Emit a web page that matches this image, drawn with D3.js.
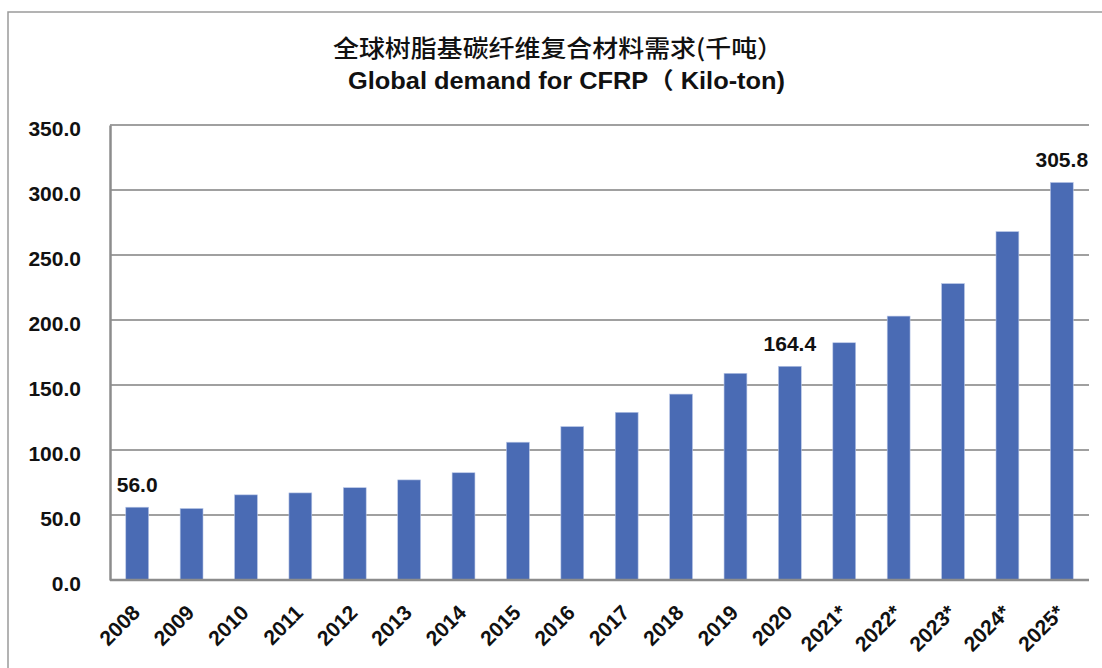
<!DOCTYPE html>
<html>
<head>
<meta charset="utf-8">
<script src="https://cdn.jsdelivr.net/npm/d3@7/dist/d3.min.js"></script>
<style>
  html, body { margin: 0; padding: 0; background: #fff; }
  svg { display: block; }
</style>
</head>
<body>
<svg id="chart" width="1102" height="668"></svg>
<script>
const years = ["2008","2009","2010","2011","2012","2013","2014","2015","2016","2017","2018","2019","2020","2021*","2022*","2023*","2024*","2025*"];
const demand = [56.0, 55.0, 65.5, 67.0, 71.0, 77.0, 82.5, 106.0, 118.0, 129.0, 143.0, 159.0, 164.4, 182.5, 203.0, 228.0, 268.0, 305.8];
const labelledYears = ["2008", "2020", "2025*"];
const yTicks = [0, 50, 100, 150, 200, 250, 300, 350];
const titleLines = ["全球树脂基碳纤维复合材料需求(千吨）", "Global demand for CFRP（ Kilo-ton)"];

const svg = d3.select("#chart");
const font = "Arial, 'Liberation Sans', Helvetica, 'Noto Sans CJK SC', sans-serif";

// outer frame
svg.append("rect")
  .attr("x", 8).attr("y", 12).attr("width", 1110).attr("height", 680)
  .attr("fill", "none").attr("stroke", "#9a9a9a").attr("stroke-width", 1.5);

const plot = { left: 110, right: 1089, top: 125, bottom: 580 };

const x = d3.scaleBand().domain(years).range([plot.left, plot.right]).paddingInner(0.58).paddingOuter(0.29);
const y = d3.scaleLinear().domain([0, 350]).range([plot.bottom, plot.top]);

// title
svg.append("text")
  .attr("x", 333).attr("y", 56.5)
  .attr("font-family", "'Noto Sans CJK SC', sans-serif").attr("font-size", 24).attr("font-weight", 500)
  .attr("textLength", 450).attr("lengthAdjust", "spacingAndGlyphs")
  .attr("fill", "#111").text(titleLines[0]);
svg.append("text")
  .attr("x", 348).attr("y", 88.5)
  .attr("font-family", font).attr("font-size", 23).attr("font-weight", 700)
  .attr("textLength", 437).attr("lengthAdjust", "spacingAndGlyphs")
  .attr("fill", "#111").text(titleLines[1]);

// gridlines
svg.append("g")
  .selectAll("line").data(yTicks.filter(d => d > 0)).join("line")
  .attr("x1", plot.left).attr("x2", plot.right)
  .attr("y1", d => y(d)).attr("y2", d => y(d))
  .attr("stroke", "#a0a0a0").attr("stroke-width", 2);

// y axis
const yAxis = svg.append("g")
  .attr("transform", `translate(${plot.left},0)`)
  .call(d3.axisLeft(y).tickValues(yTicks).tickFormat(d3.format(".1f")).tickSize(0).tickPadding(29));
yAxis.select(".domain").attr("stroke", "#8c8c8c").attr("stroke-width", 2.5);
yAxis.selectAll("text")
  .attr("dy", "0.52em")
  .attr("font-family", font).attr("font-size", 21).attr("font-weight", 700).attr("fill", "#111");

// bars
svg.append("g")
  .selectAll("rect").data(years).join("rect")
  .attr("x", d => x(d))
  .attr("width", x.bandwidth())
  .attr("y", (d, i) => y(demand[i]))
  .attr("height", (d, i) => y(0) - y(demand[i]))
  .attr("fill", "#4a6bb4")
  .attr("stroke", "#b8c6e6").attr("stroke-width", 0.6);

// x axis
const xAxis = svg.append("g")
  .attr("transform", `translate(0,${plot.bottom})`)
  .call(d3.axisBottom(x).tickSize(0).tickSizeOuter(0));
xAxis.select(".domain").attr("stroke", "#8c8c8c").attr("stroke-width", 2.5)
  .attr("d", `M${plot.left},0H${plot.right}`);
xAxis.selectAll("text")
  .attr("font-family", font).attr("font-size", 21).attr("font-weight", 700).attr("fill", "#111")
  .attr("text-anchor", "end")
  .attr("x", 0).attr("y", 0).attr("dy", 0)
  .attr("transform", "translate(4,34) rotate(-45)");

// data labels
svg.append("g")
  .selectAll("text").data(years.filter(d => labelledYears.includes(d))).join("text")
  .attr("x", d => x(d) + x.bandwidth() / 2)
  .attr("y", d => y(demand[years.indexOf(d)]) - 15)
  .attr("text-anchor", "middle")
  .attr("font-family", font).attr("font-size", 21).attr("font-weight", 700).attr("fill", "#111")
  .text(d => d3.format(".1f")(demand[years.indexOf(d)]));
</script>
</body>
</html>
